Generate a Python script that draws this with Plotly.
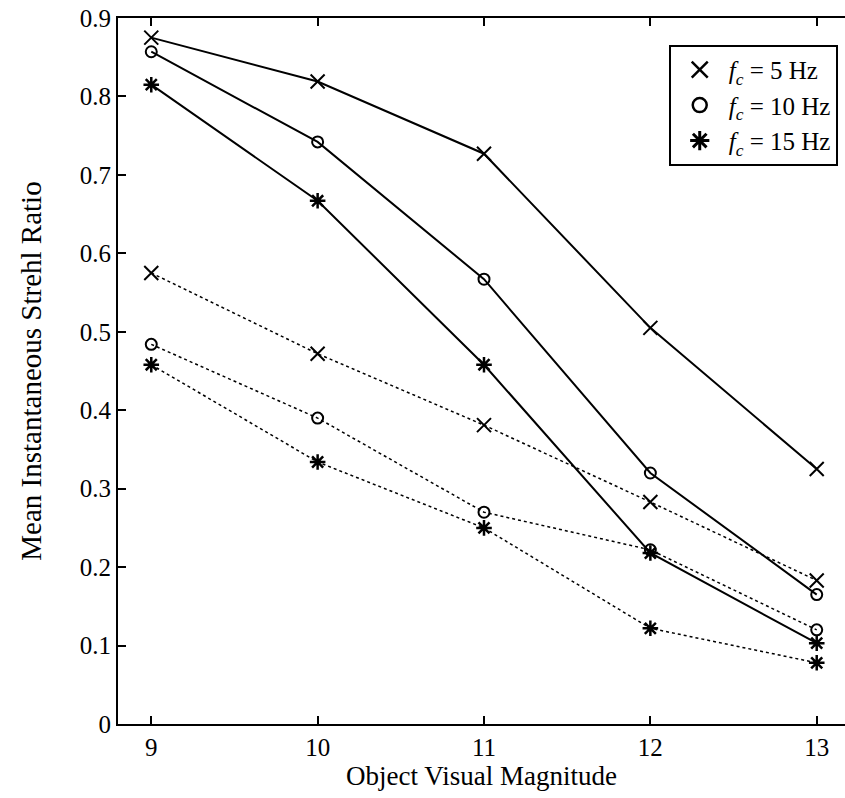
import plotly.graph_objects as go

magnitude = [9, 10, 11, 12, 13]

# Solid lines
solid_5hz = [0.875, 0.819, 0.727, 0.505, 0.325]
solid_10hz = [0.857, 0.742, 0.567, 0.320, 0.165]
solid_15hz = [0.815, 0.667, 0.458, 0.218, 0.103]

# Dotted lines
dotted_5hz = [0.575, 0.472, 0.381, 0.283, 0.183]
dotted_10hz = [0.484, 0.390, 0.270, 0.222, 0.120]
dotted_15hz = [0.458, 0.334, 0.250, 0.122, 0.078]

legend_labels = [
    "<i>f</i><sub><i>c</i></sub> = 5 Hz",
    "<i>f</i><sub><i>c</i></sub> = 10 Hz",
    "<i>f</i><sub><i>c</i></sub> = 15 Hz",
]

FONT = "Liberation Serif, Times New Roman, serif"

markers = [
    dict(symbol="x-thin-open", size=14, line=dict(width=2, color="black"), color="black"),
    dict(symbol="circle-open", size=11, line=dict(width=2, color="black"), color="black"),
    dict(symbol="asterisk-open", size=13, line=dict(width=2.5, color="black"), color="black"),
]
legend_markers = [
    dict(symbol="x-thin-open", size=16, line=dict(width=2.5, color="black"), color="black"),
    dict(symbol="circle-open", size=14, line=dict(width=2.5, color="black"), color="black"),
    dict(symbol="asterisk-open", size=16, line=dict(width=3, color="black"), color="black"),
]

fig = go.Figure()

for vals, mk in zip([solid_5hz, solid_10hz, solid_15hz], markers):
    fig.add_trace(go.Scatter(x=magnitude, y=vals, mode="lines+markers",
                             line=dict(color="black", width=2), marker=mk,
                             showlegend=False))
for vals, mk in zip([dotted_5hz, dotted_10hz, dotted_15hz], markers):
    fig.add_trace(go.Scatter(x=magnitude, y=vals, mode="lines+markers",
                             line=dict(color="black", width=1.5, dash="dot"), marker=mk,
                             showlegend=False))
for lab, mk in zip(legend_labels, legend_markers):
    fig.add_trace(go.Scatter(x=[None], y=[None], mode="markers", marker=mk,
                             name=lab, showlegend=True))

fig.update_layout(
    width=845, height=798,
    margin=dict(l=118, r=0, t=18, b=74),
    paper_bgcolor="white", plot_bgcolor="white",
    font=dict(family=FONT, size=25, color="black"),
    legend=dict(x=0.99, y=0.962, xanchor="right", yanchor="top",
                bordercolor="black", borderwidth=2, bgcolor="white",
                font=dict(family=FONT, size=25, color="black"),
                tracegroupgap=0, itemwidth=48),
    xaxis=dict(range=[8.8, 13.17], tickvals=[9, 10, 11, 12, 13],
               ticks="inside", ticklen=8, tickwidth=1.5, tickcolor="black",
               showline=True, linecolor="black", linewidth=2, mirror="ticks",
               showgrid=False, zeroline=False,
               tickfont=dict(family=FONT, size=25),
               title=dict(text="Object Visual Magnitude", standoff=4,
                          font=dict(family=FONT, size=27))),
    yaxis=dict(range=[0, 0.9], dtick=0.1, tick0=0,
               ticks="inside", ticklen=8, tickwidth=1.5, tickcolor="black",
               showline=True, linecolor="black", linewidth=2, mirror=False,
               showgrid=False, zeroline=False,
               tickfont=dict(family=FONT, size=25),
               title=dict(text="Mean Instantaneous Strehl Ratio", standoff=30,
                          font=dict(family=FONT, size=29))),
)

fig.write_html("out.html", config={"displayModeBar": False},
               post_script="document.body.style.margin='0';")
